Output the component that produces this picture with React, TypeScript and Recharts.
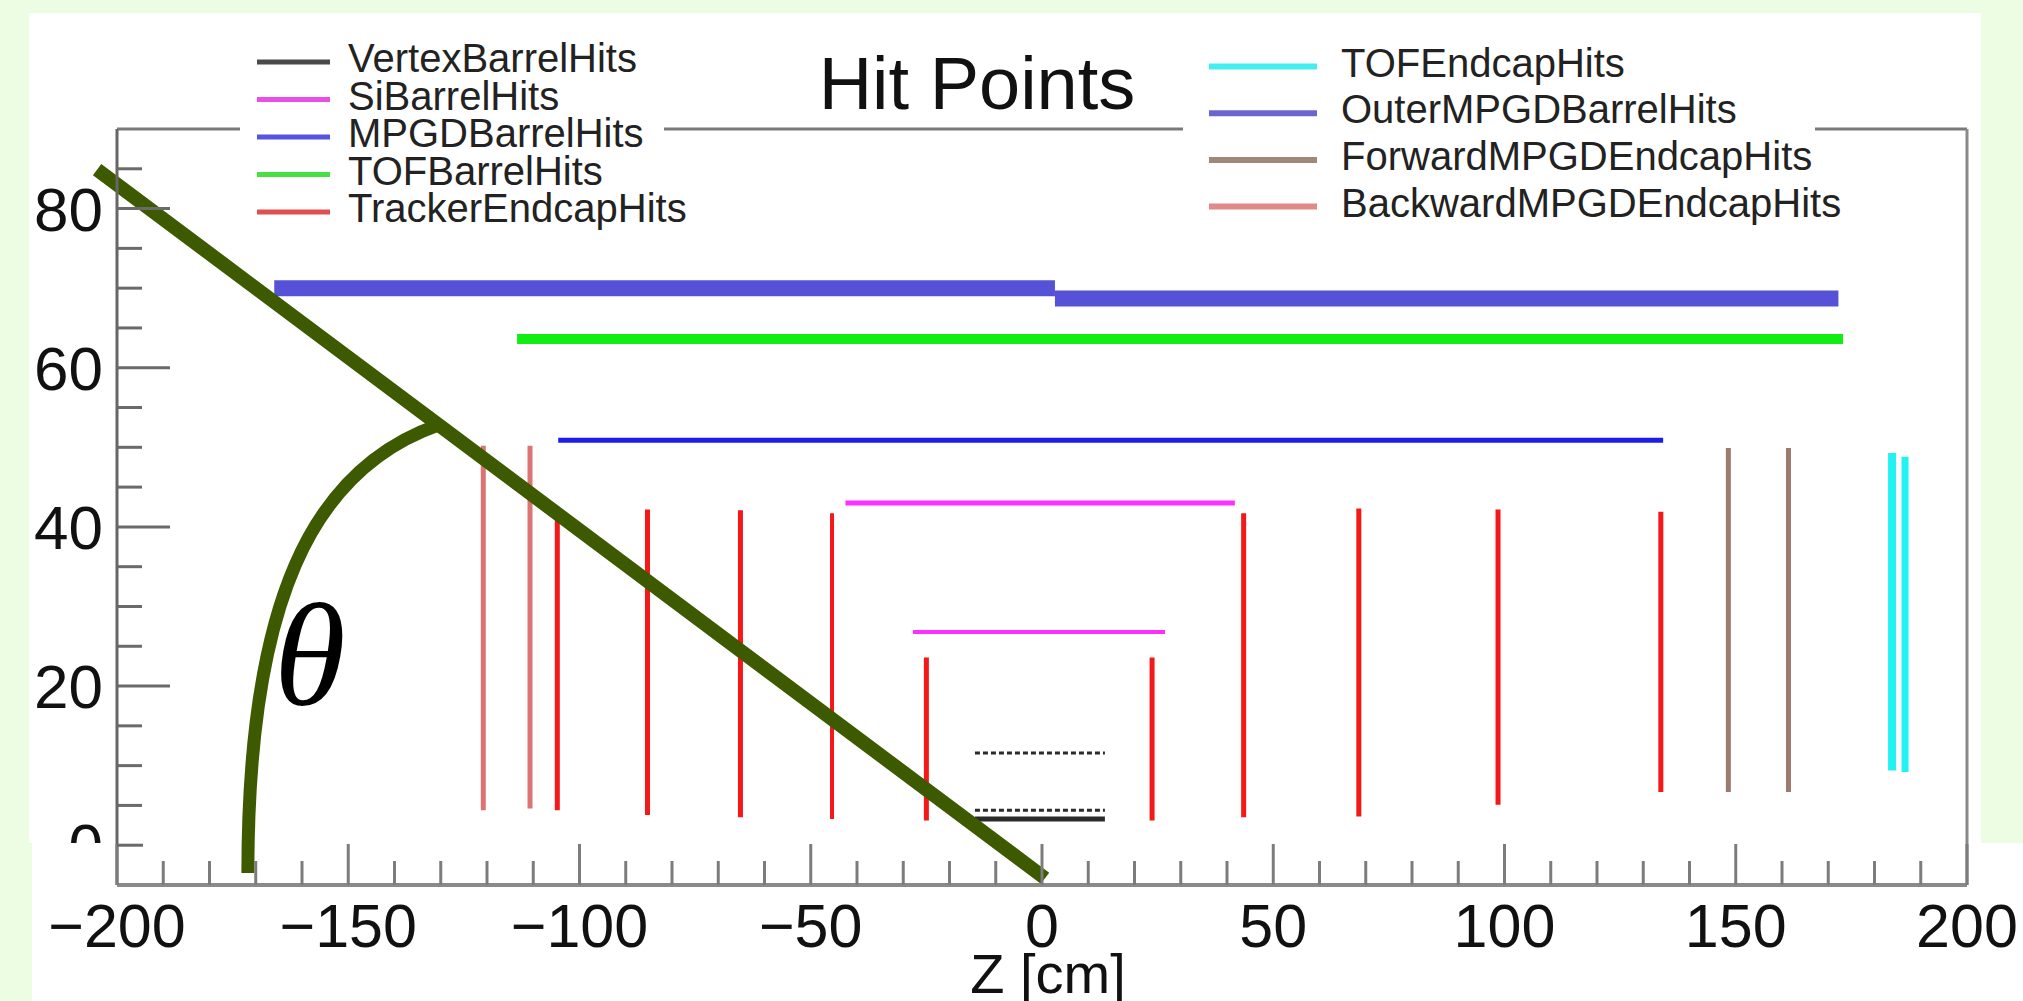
import React from "react";
import {
  ComposedChart,
  Line,
  XAxis,
  YAxis,
  ReferenceLine,
  ReferenceDot,
} from "recharts";

// barrel layers: radius r (cm) spanning z0..z1 (cm)
const vertexBarrel = [
  { r: 11.6, z0: -14.5, z1: 13.6 },
  { r: 4.4, z0: -14.5, z1: 13.6 },
  { r: 3.3, z0: -14.5, z1: 13.6 },
];
const siBarrel = [
  { r: 43.0, z0: -42.5, z1: 41.7 },
  { r: 26.8, z0: -27.9, z1: 26.6 },
];
const mpgdBarrel = [{ r: 50.9, z0: -104.6, z1: 134.3 }];
const tofBarrel = [{ r: 63.6, z0: -113.5, z1: 173.2 }];
const outerMpgdBarrel = [
  { r: 70.0, z0: -166.0, z1: 2.8 },
  { r: 68.7, z0: 2.8, z1: 172.2 },
];

// endcap disks: position z (cm), radius r0..r1 (cm)
const trackerEndcap = [
  { z: -104.8, r0: 4.4, r1: 41.8 },
  { z: -85.3, r0: 3.8, r1: 42.2 },
  { z: -65.2, r0: 3.5, r1: 42.1 },
  { z: -45.4, r0: 3.3, r1: 41.7 },
  { z: -25.0, r0: 3.1, r1: 23.6 },
  { z: 23.8, r0: 3.1, r1: 23.6 },
  { z: 43.6, r0: 3.5, r1: 41.7 },
  { z: 68.5, r0: 3.6, r1: 42.3 },
  { z: 98.6, r0: 5.1, r1: 42.2 },
  { z: 133.8, r0: 6.7, r1: 41.9 },
];
const tofEndcap = [
  { z: 183.8, r0: 9.4, r1: 49.3 },
  { z: 186.6, r0: 9.2, r1: 48.8 },
];
const forwardMpgdEndcap = [
  { z: 148.4, r0: 6.7, r1: 49.9 },
  { z: 161.4, r0: 6.7, r1: 49.9 },
];
const backwardMpgdEndcap = [
  { z: -120.8, r0: 4.4, r1: 50.2 },
  { z: -110.7, r0: 4.6, r1: 50.2 },
];

// theta annotation (data coordinates)
const angleRay = [
  { x: -204.3, y: 84.9 },
  { x: 0.65, y: -4.15 },
];
const angleArc = [
  { x: -171.7, y: -3.5 },
  { x: -130.6, y: 52.8 },
];
const thetaAt = { x: -158.3, y: 17.6 };

const xTicks = [
  -200, -190, -180, -170, -160, -150, -140, -130, -120, -110, -100, -90, -80,
  -70, -60, -50, -40, -30, -20, -10, 0, 10, 20, 30, 40, 50, 60, 70, 80, 90,
  100, 110, 120, 130, 140, 150, 160, 170, 180, 190, 200,
];
const yTicks = [0, 5, 10, 15, 20, 25, 30, 35, 40, 45, 50, 55, 60, 65, 70, 75, 80, 85];

const leftLegend = [
  "VertexBarrelHits",
  "SiBarrelHits",
  "MPGDBarrelHits",
  "TOFBarrelHits",
  "TrackerEndcapHits",
];
const rightLegend = [
  "TOFEndcapHits",
  "OuterMPGDBarrelHits",
  "ForwardMPGDEndcapHits",
  "BackwardMPGDEndcapHits",
];

const FONT = "'Liberation Sans', Arial, Helvetica, sans-serif";
const SERIF = "'Liberation Serif', 'DejaVu Serif', serif";

type Pt = { x: number; y: number };
const barrel = (ls: { r: number; z0: number; z1: number }[]): Pt[][] =>
  ls.map((l) => [
    { x: l.z0, y: l.r },
    { x: l.z1, y: l.r },
  ]);
const endcap = (ds: { z: number; r0: number; r1: number }[]): Pt[][] =>
  ds.map((d) => [
    { x: d.z, y: d.r0 },
    { x: d.z, y: d.r1 },
  ]);

const groups: {
  name: string;
  segs: Pt[][];
  color: string;
  legend: string;
  widths: number[];
  dash?: (string | undefined)[];
}[] = [
  { name: "OuterMPGDBarrelHits", segs: barrel(outerMpgdBarrel), color: "#5652d8", legend: "#6a66d0", widths: [16, 16] },
  { name: "TOFBarrelHits", segs: barrel(tofBarrel), color: "#12ee12", legend: "#44e044", widths: [10] },
  { name: "MPGDBarrelHits", segs: barrel(mpgdBarrel), color: "#1c1cee", legend: "#5555e0", widths: [5] },
  { name: "SiBarrelHits", segs: barrel(siBarrel), color: "#ff30ff", legend: "#e84ee8", widths: [5, 4] },
  { name: "VertexBarrelHits", segs: barrel(vertexBarrel), color: "#2a2a2a", legend: "#4a4a4a", widths: [3, 3, 5], dash: ["5 3", "5 3", undefined] },
  { name: "TrackerEndcapHits", segs: endcap(trackerEndcap), color: "#f41818", legend: "#e05050", widths: [5, 5, 5, 4, 5, 5, 5, 5, 5, 5] },
  { name: "BackwardMPGDEndcapHits", segs: endcap(backwardMpgdEndcap), color: "#dc7474", legend: "#e08a8a", widths: [5, 5] },
  { name: "ForwardMPGDEndcapHits", segs: endcap(forwardMpgdEndcap), color: "#9c7a6e", legend: "#a08878", widths: [5, 5] },
  { name: "TOFEndcapHits", segs: endcap(tofEndcap), color: "#22f2f2", legend: "#44eeee", widths: [8, 7] },
];
const legendColor = (n: string) => groups.find((g) => g.name === n)?.legend ?? "#000";

function XTick(props: any) {
  const { x, y, payload } = props;
  const v = payload.value as number;
  const major = v % 50 === 0;
  return (
    <g>
      <line x1={x} x2={x} y1={y} y2={y - (major ? 41 : 24)} stroke="#7c7c7c" strokeWidth={3} />
      {major && (
        <text x={x} y={y + 62} textAnchor="middle" fontFamily={FONT} fontSize={61} fill="#111">
          {v < 0 ? `\u2212${-v}` : v}
        </text>
      )}
    </g>
  );
}

function YTick(props: any) {
  const { x, y, payload } = props;
  const v = payload.value as number;
  const labelled = v % 20 === 0;
  const len = v === 0 ? 26 : labelled ? 53 : 25;
  return (
    <g>
      <defs>
        <clipPath id="aboveStrip">
          <rect x={0} y={0} width={2023} height={843} />
        </clipPath>
      </defs>
      <line x1={x} x2={x + len} y1={y} y2={y} stroke="#6a6a6a" strokeWidth={3} />
      {labelled && (
        <text
          x={x - 14}
          y={y + 22}
          textAnchor="end"
          fontFamily={FONT}
          fontSize={62}
          fill="#111"
          clipPath={v === 0 ? "url(#aboveStrip)" : undefined}
        >
          {v}
        </text>
      )}
    </g>
  );
}

const ArcShape = (p: any) => {
  const dx = p.x2 - p.x1;
  const dy = p.y1 - p.y2;
  const d = `M${p.x1},${p.y1} C${p.x1},${p.y1 - 0.6 * dy} ${p.x2 - 0.67 * dx},${p.y2 + 0.1 * dy} ${p.x2},${p.y2}`;
  return <path d={d} fill="none" stroke="#3d5a00" strokeWidth={13} />;
};

const ThetaShape = (p: any) => (
  <text x={p.cx} y={p.cy} textAnchor="middle" fontFamily={SERIF} fontStyle="italic" fontSize={146} fill="#000">
    θ
  </text>
);

export default function App() {
  return (
    <div style={{ position: "absolute", left: 0, top: 0, width: 2023, height: 1001, background: "#ecfde3", overflow: "hidden" }}>
      <div style={{ position: "absolute", left: 29, top: 13, width: 1952, height: 830, background: "#fff" }} />
      <div style={{ position: "absolute", left: 32, top: 843, width: 1991, height: 158, background: "#fff" }} />
      <div style={{ position: "absolute", left: 0, top: 0 }}>
        <ComposedChart width={2023} height={1001} margin={{ top: 129, right: 56, bottom: 0, left: 0 }}>
          <XAxis
            type="number"
            dataKey="x"
            domain={[-200, 200]}
            ticks={xTicks}
            interval={0}
            height={116}
            tickSize={0}
            tickMargin={0}
            tickLine={false}
            tick={<XTick />}
            axisLine={{ stroke: "#8a8a8a", strokeWidth: 4 }}
            label={{ value: "Z [cm]", position: "insideBottom", offset: 8, dx: 6, fontSize: 56, fontFamily: FONT, fill: "#111" }}
          />
          <YAxis
            type="number"
            domain={[-5, 90]}
            ticks={yTicks}
            interval={0}
            width={117}
            tickSize={0}
            tickMargin={0}
            tickLine={false}
            tick={<YTick />}
            axisLine={{ stroke: "#666", strokeWidth: 3 }}
          />
          <ReferenceLine y={90} stroke="#7a7a7a" strokeWidth={3} />
          <ReferenceLine x={200} stroke="#8a8a8a" strokeWidth={3} />
          {groups.map((g) =>
            g.segs.map((pts, i) => (
              <Line
                key={`${g.name}-${i}`}
                name={`${g.name}-${i}`}
                data={pts}
                dataKey="y"
                type="linear"
                stroke={g.color}
                strokeWidth={g.widths[i]}
                strokeDasharray={g.dash?.[i]}
                dot={false}
                activeDot={false}
                legendType="none"
                isAnimationActive={false}
              />
            ))
          )}
          <ReferenceLine segment={angleRay} stroke="#3d5a00" strokeWidth={14} ifOverflow="visible" />
          <ReferenceLine segment={angleArc} ifOverflow="visible" shape={ArcShape} />
          <ReferenceDot x={thetaAt.x} y={thetaAt.y} r={0} ifOverflow="visible" shape={ThetaShape} />
        </ComposedChart>
      </div>
      <svg width={2023} height={1001} style={{ position: "absolute", left: 0, top: 0, pointerEvents: "none" }}>
        <rect x={240} y={36} width={424} height={196} fill="#fff" />
        <rect x={1183} y={34} width={632} height={200} fill="#fff" />
        <text x={977} y={109} textAnchor="middle" fontFamily={FONT} fontSize={74} fill="#111">
          Hit Points
        </text>
        {leftLegend.map((n, i) => {
          const ly = 62 + i * 37.5;
          return (
            <g key={n}>
              <line x1={257} x2={330} y1={ly} y2={ly} stroke={legendColor(n)} strokeWidth={5} />
              <text x={348} y={ly + 10} fontFamily={FONT} fontSize={40} fill="#222">
                {n}
              </text>
            </g>
          );
        })}
        {rightLegend.map((n, i) => {
          const ly = 66.5 + i * 46.7;
          return (
            <g key={n}>
              <line x1={1209} x2={1317} y1={ly} y2={ly} stroke={legendColor(n)} strokeWidth={6} />
              <text x={1341} y={ly + 10} fontFamily={FONT} fontSize={40} fill="#222">
                {n}
              </text>
            </g>
          );
        })}
      </svg>
    </div>
  );
}
